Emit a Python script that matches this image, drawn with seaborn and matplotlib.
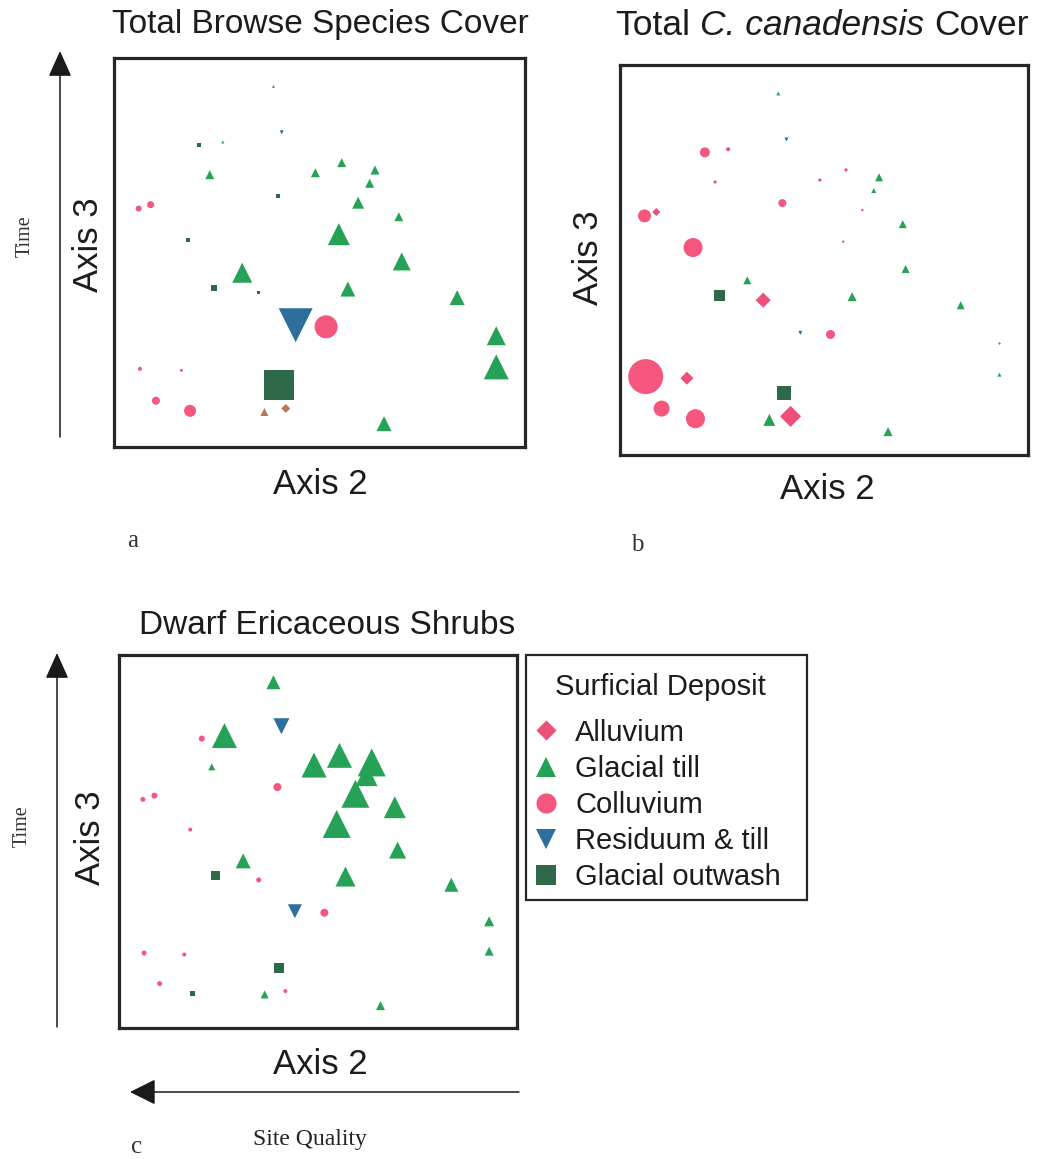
import matplotlib
matplotlib.use("Agg")
import matplotlib.pyplot as plt
from matplotlib.path import Path
from matplotlib.patches import FancyArrowPatch, Rectangle
from matplotlib.lines import Line2D
import pandas as pd
import seaborn as sns

# ---------------------------------------------------------------------------
# Site scores on the ordination axes (rescaled to 0-100 within each plot)
# ---------------------------------------------------------------------------
AXIS2 = [38.8, 40.8, 20.8, 26.5, 23.3, 49.0, 55.4, 63.5, 62.2, 59.4,
         39.8, 69.3, 6.0, 8.9, 17.9, 54.7, 70.0, 31.2, 24.3, 35.1,
         56.9, 83.5, 44.2, 51.6, 93.0, 93.0, 6.3, 16.4, 40.1, 10.2,
         18.5, 36.6, 41.8, 65.7]
AXIS3 = [92.7, 80.9, 77.6, 78.4, 70.0, 70.5, 73.1, 71.2, 67.8, 62.8,
         64.6, 59.2, 61.3, 62.3, 53.2, 54.7, 47.7, 44.8, 40.9, 39.7,
         40.6, 38.4, 31.3, 30.9, 28.6, 20.6, 20.1, 19.7, 16.0, 11.9,
         9.3, 9.0, 9.9, 6.0]

# Surficial deposit codes per site as plotted in each panel
DEPOSIT_A = "TROTTTTTTTOTCCOTTTOOTTRCTTCCOCCTAT"
DEPOSIT_B = "TRCAAAATTACTCACATTOATTRCATCAOCCTAT"
DEPOSIT_C = "TRCTTTTTTTCTCCCTTTOCTTRCTTCCOCOTCT"

# Cover values (symbol area) per site
COVER_A = [0.9, 1.6, 1.6, 0.9, 8.1, 8.1, 8.1, 8.1, 8.1, 14.4,
           1.6, 8.1, 3.6, 4.9, 1.6, 48.4, 32.4, 40.0, 3.6, 0.9,
           22.5, 22.5, 115.6, 52.9, 36.1, 62.5, 1.6, 0.9, 90.0, 6.4,
           14.4, 6.4, 8.1, 22.5]
COVER_B = [1.6, 1.6, 10.0, 2.5, 1.6, 1.6, 1.6, 6.4, 2.5, 0.9,
           6.4, 6.4, 16.9, 6.4, 36.1, 0.9, 6.4, 6.4, 12.1, 22.5,
           8.1, 6.4, 1.6, 8.1, 0.9, 1.6, 122.5, 16.9, 19.6, 25.6,
           36.1, 14.4, 44.1, 8.1]
COVER_C = [19.6, 25.6, 3.6, 62.5, 4.9, 62.5, 62.5, 78.4, 48.4, 78.4,
           6.4, 48.4, 2.5, 3.6, 1.6, 78.4, 28.9, 22.5, 8.1, 2.5,
           40.0, 19.6, 19.6, 6.4, 10.0, 8.1, 2.5, 1.6, 10.0, 2.5,
           2.5, 6.4, 1.6, 8.1]

# Sites drawn in brown in panel a (1-based site numbers)
BROWN_SITES_A = [32, 33]

DEPOSIT_NAMES = {"A": "Alluvium", "T": "Glacial till", "C": "Colluvium",
                 "R": "Residuum & till", "O": "Glacial outwash"}
DEPOSIT_ORDER = ["Alluvium", "Glacial till", "Colluvium",
                 "Residuum & till", "Glacial outwash"]

TITLE_A = "Total Browse Species Cover"
TITLE_B = [("Total", "normal"), ("C. canadensis", "italic"), ("Cover", "normal")]
TITLE_C = "Dwarf Ericaceous Shrubs"

# ---------------------------------------------------------------------------
# Styling
# ---------------------------------------------------------------------------
sns.set_theme(style="white")
plt.rcParams["font.family"] = ["Liberation Sans", "DejaVu Sans"]

DIAMOND = Path([(0, 1), (1, 0), (0, -1), (-1, 0), (0, 1)],
               [Path.MOVETO, Path.LINETO, Path.LINETO, Path.LINETO, Path.CLOSEPOLY])
MARKERS = {"Alluvium": DIAMOND, "Glacial till": "^", "Colluvium": "o",
           "Residuum & till": "v", "Glacial outwash": "s"}
PALETTE = {"Alluvium": "#ec4f78", "Glacial till": "#26a257",
           "Colluvium": "#f4567e", "Residuum & till": "#2d6f9c",
           "Glacial outwash": "#2e6a4a"}
BROWN = "#b97a52"
FRAME = "#262626"
INK = "#1c1c1c"
SERIF = ["Liberation Serif", "DejaVu Serif"]

COVER_MAX = 125.0
AREA_MAX = 648.0

W, H = 1041, 1159
DPI = 100
fig = plt.figure(figsize=(W / DPI, H / DPI), dpi=DPI)
fig.patch.set_facecolor("white")


def fx(px):
    return px / W


def fy(py):
    return 1 - py / H


def make_axes(left, top, right, bottom):
    ax = fig.add_axes([fx(left), fy(bottom), (right - left) / W, (bottom - top) / H])
    ax.set_xlim(0, 100)
    ax.set_ylim(0, 100)
    ax.set_xticks([])
    ax.set_yticks([])
    for sp in ax.spines.values():
        sp.set_visible(True)
        sp.set_linewidth(2.3)
        sp.set_color(FRAME)
    return ax


def site_frame(codes, cover):
    return pd.DataFrame({
        "site": range(1, len(AXIS2) + 1),
        "axis2": AXIS2,
        "axis3": AXIS3,
        "deposit": [DEPOSIT_NAMES[c] for c in codes],
        "cover": cover,
    })


def draw_sites(ax, df):
    sns.scatterplot(data=df, x="axis2", y="axis3", hue="deposit", style="deposit",
                    size="cover", hue_order=DEPOSIT_ORDER, style_order=DEPOSIT_ORDER,
                    palette=PALETTE, markers=MARKERS, sizes=(0, AREA_MAX),
                    size_norm=(0, COVER_MAX), linewidth=0, legend=False, ax=ax)
    ax.set_xlabel("")
    ax.set_ylabel("")


def arrow(p0, p1, head_width=0.72):
    fig.add_artist(FancyArrowPatch((fx(p0[0]), fy(p0[1])), (fx(p1[0]), fy(p1[1])),
                                   transform=fig.transFigure,
                                   arrowstyle=f"-|>,head_length=1.6,head_width={head_width}",
                                   mutation_scale=10, lw=1.1, color="#1a1a1a",
                                   shrinkA=0, shrinkB=0))


def label(x, y, s, size=25, **kw):
    kw.setdefault("color", INK)
    kw.setdefault("ha", "center")
    kw.setdefault("va", "center")
    return fig.text(fx(x), fy(y), s, fontsize=size, **kw)


def mixed_label(xc, y, parts, size):
    """Centre a run of words in different font styles on xc (baseline y)."""
    renderer = fig.canvas.get_renderer()
    space = 0.278 * size * DPI / 72
    pieces = []
    for text, style in parts:
        t = label(0, y, text, size=size, style=style, ha="left", va="baseline")
        pieces.append((t, t.get_window_extent(renderer).width))
    total = sum(w for _, w in pieces) + space * (len(pieces) - 1)
    x = xc - total / 2
    for t, w in pieces:
        t.set_x(fx(x))
        x += w + space


# ---------------------------------------------------------------------------
# Panel a
# ---------------------------------------------------------------------------
ax_a = make_axes(114, 58, 525, 447)
df_a = site_frame(DEPOSIT_A, COVER_A)
brown_mask = df_a["site"].isin(BROWN_SITES_A)
draw_sites(ax_a, df_a[~brown_mask])
sns.scatterplot(data=df_a[brown_mask], x="axis2", y="axis3", style="deposit",
                size="cover", style_order=DEPOSIT_ORDER, markers=MARKERS,
                sizes=(0, AREA_MAX), size_norm=(0, COVER_MAX), color=BROWN,
                linewidth=0, legend=False, ax=ax_a)
ax_a.set_xlabel("")
ax_a.set_ylabel("")

label(320, 33, TITLE_A, size=24, va="baseline")
label(320, 485, "Axis 2")
label(88, 245, "Axis 3", rotation=90)
label(25, 236, "Time", size=14.5, rotation=90, family=SERIF, color="#333333")
arrow((60, 437), (60, 51))
label(133, 541, "a", size=18, family=SERIF, color="#333333")

# ---------------------------------------------------------------------------
# Panel b
# ---------------------------------------------------------------------------
ax_b = make_axes(620, 65, 1028, 455)
draw_sites(ax_b, site_frame(DEPOSIT_B, COVER_B))
mixed_label(822, 35, TITLE_B, size=25.5)
label(827, 490, "Axis 2")
label(588, 258, "Axis 3", rotation=90)
label(637, 545, "b", size=18, family=SERIF, color="#333333")

# ---------------------------------------------------------------------------
# Panel c
# ---------------------------------------------------------------------------
ax_c = make_axes(119, 655, 517, 1028)
draw_sites(ax_c, site_frame(DEPOSIT_C, COVER_C))
label(327, 625, TITLE_C, size=24)
label(320, 1065, "Axis 2")
label(90, 838, "Axis 3", rotation=90)
label(22, 826, "Time", size=14.5, rotation=90, family=SERIF, color="#333333")
arrow((57, 1027), (57, 653))
arrow((519, 1092), (130, 1092), head_width=0.8)
label(310, 1140, "Site Quality", size=17, family=SERIF, color="#222222")
label(137, 1147, "c", size=18, family=SERIF, color="#333333")

# ---------------------------------------------------------------------------
# Legend
# ---------------------------------------------------------------------------
fig.add_artist(Rectangle((fx(526), fy(900)), (807 - 526) / W, (900 - 655) / H,
                         transform=fig.transFigure, fill=False,
                         edgecolor=FRAME, linewidth=1.6))
label(660, 687, "Surficial Deposit", size=21)
handles = [Line2D([], [], linestyle="none", marker=MARKERS[d],
                  markerfacecolor=PALETTE[d], markeredgewidth=0,
                  markersize=14.5) for d in DEPOSIT_ORDER]
fig.legend(handles, DEPOSIT_ORDER, loc="center left",
           bbox_to_anchor=(fx(536), fy(805)), frameon=False, fontsize=21,
           borderpad=0, borderaxespad=0, handlelength=0.69, handletextpad=0.65,
           labelspacing=0.28, labelcolor=INK)

fig.savefig("out.png", dpi=DPI, facecolor="white")
